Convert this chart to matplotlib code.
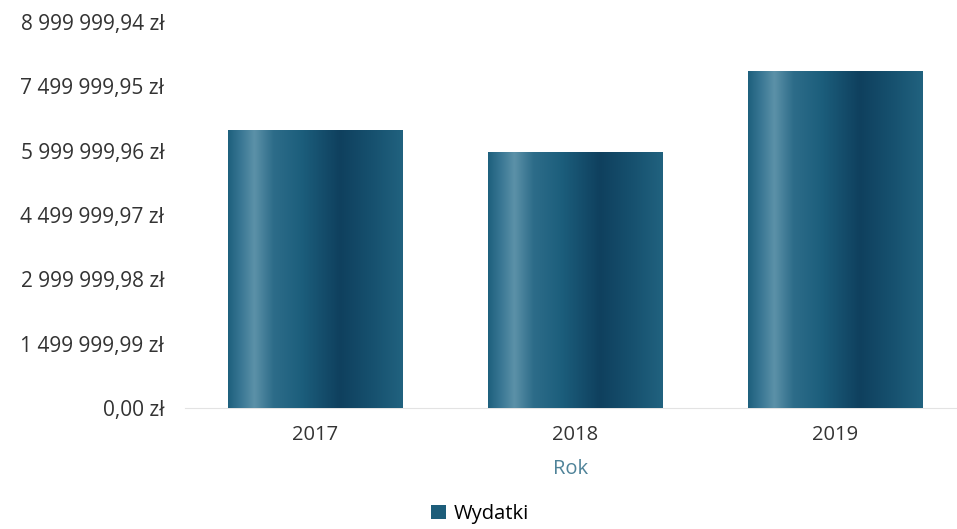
import numpy as np
import matplotlib
matplotlib.use('Agg')
import matplotlib.pyplot as plt
from matplotlib.colors import LinearSegmentedColormap
from matplotlib.patches import Patch

# data
years = ['2017', '2018', '2019']
wydatki = [6480000, 5960000, 7850000]
y_ticks = [0.0, 1499999.99, 2999999.98, 4499999.97, 5999999.96, 7499999.95, 8999999.94]
y_labels = ['0,00 zł', '1 499 999,99 zł', '2 999 999,98 zł', '4 499 999,97 zł',
            '5 999 999,96 zł', '7 499 999,95 zł', '8 999 999,94 zł']

plt.rcParams['font.family'] = ['Open Sans', 'DejaVu Sans']

fig = plt.figure(figsize=(9.57, 5.29), dpi=100)
ax = fig.add_axes([185 / 957, 121 / 529, 1 - 185 / 957, 386 / 529])

x = np.arange(len(years))
bars = ax.bar(x, wydatki, width=0.67, color='#1b5c7a', zorder=2)

# cylinder-like shading across each bar
cyl = LinearSegmentedColormap.from_list('cyl', [
    (0.0, '#1e607d'), (0.07, '#387693'), (0.15, '#5c91a8'), (0.26, '#2d6c89'),
    (0.42, '#1c5e7c'), (0.64, '#0f405e'), (0.82, '#16506e'), (1.0, '#21627f')])
grad = np.linspace(0, 1, 256).reshape(1, -1)
for b in bars:
    x0, w, h = b.get_x(), b.get_width(), b.get_height()
    im = ax.imshow(grad, cmap=cyl, aspect='auto', extent=(x0, x0 + w, 0, h),
                   zorder=3, interpolation='bicubic')
    im.set_clip_path(b)

ax.set_xlim(-0.5, 2.47)
ax.set_ylim(0, 8999999.94)
ax.set_xticks(x)
ax.set_xticklabels(years, fontsize=14.5, color='#333333')
ax.set_yticks(y_ticks)
ax.set_yticklabels(y_labels, fontsize=15, color='#333333')
ax.tick_params(axis='both', length=0)
ax.tick_params(axis='y', pad=15)
ax.tick_params(axis='x', pad=12)

for s in ['top', 'right', 'left']:
    ax.spines[s].set_visible(False)
ax.spines['bottom'].set_color('#e3e3e3')

ax.set_xlabel('Rok', fontsize=14.5, color='#4f8399', labelpad=10)

handle = Patch(facecolor='#1d5d7a', edgecolor='none')
fig.legend([handle], ['Wydatki'], loc='center', bbox_to_anchor=(480 / 957, 1 - 514 / 529),
           frameon=False, fontsize=14.5, handlelength=0.75, handleheight=0.75,
           handletextpad=0.4)

plt.savefig('out.png', dpi=100)
plt.close()
